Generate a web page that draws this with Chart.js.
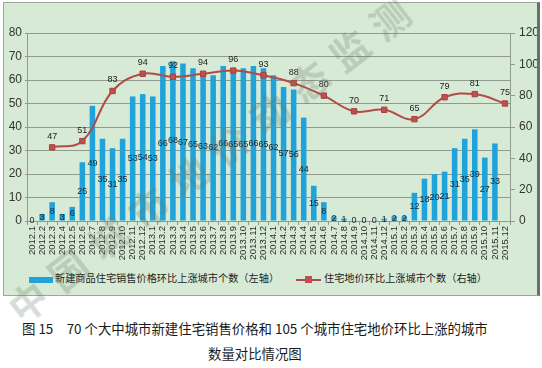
<!DOCTYPE html>
<html><head><meta charset="utf-8">
<script src="https://cdn.jsdelivr.net/npm/chart.js@4.4.1/dist/chart.umd.min.js"></script>
<style>
html,body{margin:0;padding:0;background:#fff;width:542px;height:368px;overflow:hidden;font-family:"Noto Sans CJK SC","Noto Sans",sans-serif;}
#box{position:absolute;left:3px;top:2px;width:533px;height:292px;background:#d7ead5;border:1px solid #9aa79a;border-right:3px solid #6d6d6d;}
#wrap{position:absolute;left:0;top:0;width:533px;height:262px;}
.leg{position:absolute;top:268px;font-size:10.2px;color:#222;line-height:14px;white-space:nowrap;}
.sw1{position:absolute;left:25px;top:274px;width:24px;height:6px;background:#1fa3da;}
.sw2{position:absolute;left:292px;top:276px;width:25px;height:2px;background:#b24a48;}
.sq{position:absolute;left:301px;top:273px;width:7px;height:7px;background:#c0504d;}
.cap{position:absolute;font-size:13.4px;color:#1a1a1a;white-space:nowrap;}
.wm{position:absolute;font-size:38px;letter-spacing:13px;color:rgba(100,118,100,0.26);transform:rotate(-38deg);transform-origin:0 0;white-space:nowrap;font-weight:bold;pointer-events:none;}
</style></head>
<body>
<div id="box">
  <div id="wrap"><canvas id="c" width="533" height="262"></canvas></div>
  <div class="sw1"></div><div class="leg" style="left:51px">新建商品住宅销售价格环比上涨城市个数（左轴）</div>
  <div class="sw2"></div><div class="sq"></div><div class="leg" style="left:320px">住宅地价环比上涨城市个数（右轴）</div>
</div>
<div class="cap" style="left:22px;top:318px">图 15　70 个大中城市新建住宅销售价格和 105 个城市住宅地价环比上涨的城市</div>
<div class="cap" style="left:208px;top:343px">数量对比情况图</div>
<div class="wm" style="left:-5px;top:290px">中国城市地价动态监测</div>
<script>
const categories = ["2012.1","2012.2","2012.3","2012.4","2012.5","2012.6","2012.7","2012.8","2012.9","2012.10","2012.11","2012.12",
"2013.1","2013.2","2013.3","2013.4","2013.5","2013.6","2013.7","2013.8","2013.9","2013.10","2013.11","2013.12",
"2014.1","2014.2","2014.3","2014.4","2014.5","2014.6","2014.7","2014.8","2014.9","2014.10","2014.11","2014.12",
"2015.1","2015.2","2015.3","2015.4","2015.5","2015.6","2015.7","2015.8","2015.9","2015.10","2015.11","2015.12"];
const housePriceUp = [0,3,8,3,6,25,49,35,31,35,53,54,
53,66,68,67,65,63,62,66,65,65,66,65,
62,57,56,44,15,8,2,1,0,0,0,1,
2,2,12,18,20,21,31,35,39,27,33,null];
const landPriceUp = [null,null,47,null,null,51,null,null,83,null,null,94,
null,null,92,null,null,94,null,null,96,null,null,93,
null,null,88,null,null,80,null,null,70,null,null,71,
null,null,65,null,null,79,null,null,81,null,null,75];
const leftTicks = {min:0,max:80,step:10};
const rightTicks = {min:0,max:120,step:20};

const valueLabels = {
  id:'valueLabels',
  afterDatasetsDraw(chart){
    const ctx = chart.ctx;
    ctx.save();
    ctx.font = '9px "Liberation Sans", Arial, sans-serif';
    ctx.textAlign = 'center';
    ctx.textBaseline = 'middle';
    ctx.fillStyle = '#1b2633';
    chart.getDatasetMeta(0).data.forEach((el,i)=>{
      const v = housePriceUp[i];
      if (v === null || v === undefined) return;
      const y = (el.y + el.base) / 2;
      ctx.fillText(String(v), el.x, y);
    });
    ctx.fillStyle = '#222';
    chart.getDatasetMeta(1).data.forEach((el,i)=>{
      const v = landPriceUp[i];
      if (v === null || v === undefined) return;
      ctx.fillText(String(v), el.x, el.y - 11);
    });
    ctx.restore();
  }
};

const gridCol = '#8e9b8e';
new Chart(document.getElementById('c'), {
  type:'bar',
  data:{
    labels: categories,
    datasets:[
      {type:'bar', label:'新建商品住宅销售价格环比上涨城市个数（左轴）', data: housePriceUp, yAxisID:'y',
       backgroundColor:'#1fa3da', barPercentage:0.55, categoryPercentage:1.0, order:2},
      {type:'line', label:'住宅地价环比上涨城市个数（右轴）', data: landPriceUp, yAxisID:'y1',
       borderColor:'#b24a48', borderWidth:2, tension:0.4, spanGaps:true,
       pointStyle:'rect', pointRadius:3.8, pointBackgroundColor:'#c0504d', pointBorderColor:'#a9403e', pointBorderWidth:1, order:1}
    ]
  },
  options:{
    responsive:false, animation:false,
    layout:{padding:{top:30,left:0,right:0,bottom:0}},
    plugins:{legend:{display:false}, tooltip:{enabled:false}},
    scales:{
      x:{
        grid:{display:true, drawOnChartArea:false, offset:true, color:gridCol, tickLength:4},
        border:{display:true, color:gridCol},
        ticks:{autoSkip:false, minRotation:90, maxRotation:90, padding:1, color:'#2a2a2a',
               font:{family:'"Liberation Sans", Arial, sans-serif', size:9.5}},
        afterFit(s){ s.height = 44; }
      },
      y:{
        position:'left', min:leftTicks.min, max:leftTicks.max,
        grid:{color:gridCol, lineWidth:1, tickLength:2},
        border:{display:true, color:gridCol},
        ticks:{stepSize:leftTicks.step, padding:3, color:'#333', font:{family:'"Liberation Sans", Arial, sans-serif', size:12}},
        afterFit(s){ s.width = 23; }
      },
      y1:{
        position:'right', min:rightTicks.min, max:rightTicks.max,
        grid:{drawOnChartArea:false, color:gridCol, tickLength:5},
        border:{display:true, color:gridCol},
        ticks:{stepSize:rightTicks.step, padding:4, color:'#333', font:{family:'"Liberation Sans", Arial, sans-serif', size:12}},
        afterFit(s){ s.width = 27; }
      }
    }
  },
  plugins:[valueLabels]
});
</script>
</body></html>
